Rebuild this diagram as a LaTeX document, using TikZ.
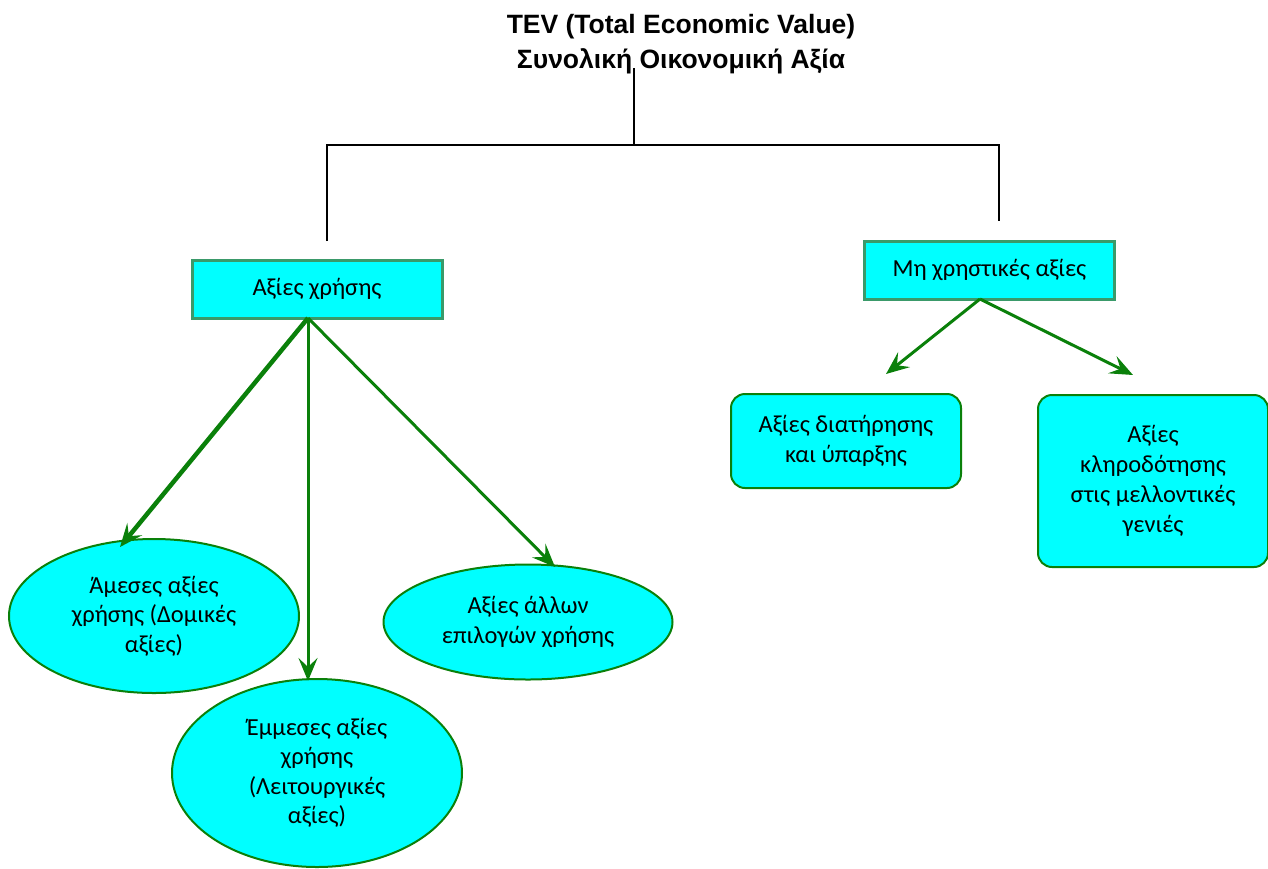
\documentclass[tikz,border=0pt]{standalone}
\usepackage{fontspec}
\setmainfont{Carlito}
\newfontfamily\titlefont{Liberation Sans}
\usetikzlibrary{shapes.geometric,arrows.meta}
\definecolor{cyanfill}{HTML}{00FFFF}
\definecolor{boxline}{HTML}{3A9A6A}
\definecolor{arrgreen}{HTML}{0A800A}
\tikzset{
  sqbox/.style={draw=boxline,line width=3pt,fill=cyanfill,minimum width=250pt,minimum height=58pt,inner sep=0pt,font=\fontsize{24.5}{29}\selectfont},
  rbox/.style={draw=arrgreen,line width=2pt,fill=cyanfill,rounded corners=14pt,inner sep=0pt,align=center,font=\fontsize{24.5}{30}\selectfont},
  ell/.style={draw=arrgreen,line width=2pt,fill=cyanfill,ellipse,inner sep=0pt,align=center,font=\fontsize{24.5}{29.5}\selectfont},
  garrow/.style={draw=arrgreen,line width=3pt,-{Stealth[length=23pt,width=19pt,inset=9pt]}},
  tline/.style={draw=black,line width=1.8pt},
}
\begin{document}
\begin{tikzpicture}[x=1pt,y=-1pt]
\useasboundingbox (0,0) rectangle (1268,868);
\node[align=center,font=\titlefont\bfseries\fontsize{26.5}{35}\selectfont] (title) at (681,44) {TEV (Total Economic Value)\\Συνολική Οικονομική Αξία};
\coordinate (t0) at (634,68);
\coordinate (t1) at (634,145);
\coordinate (tl) at (327,145);
\coordinate (tr) at (999,145);
\coordinate (tle) at (327,241);
\coordinate (tre) at (999,221);
\draw[tline] (t0) -- (t1);
\draw[tline] (tle) -- (tl) -- (tr) -- (tre);

\node[sqbox] (use) at (317,289) {Αξίες χρήσης};
\node[sqbox] (nonuse) at (989.5,270) {Μη χρηστικές αξίες};

\node[rbox,minimum width=230pt,minimum height=94pt] (cons) at (846,441) {Αξίες διατήρησης\\και ύπαρξης};
\node[rbox,minimum width=230pt,minimum height=172pt] (beq) at (1153,481) {Αξίες\\κληροδότησης\\στις μελλοντικές\\γενιές};

\node[ell,minimum width=290pt,minimum height=154pt] (direct) at (154,616) {Άμεσες αξίες\\χρήσης (Δομικές\\αξίες)};
\node[ell,minimum width=290pt,minimum height=188pt] (indirect) at (317,773) {Έμμεσες αξίες\\χρήσης\\(Λειτουργικές\\αξίες)};
\node[ell,minimum width=289pt,minimum height=115pt] (option) at (528,622) {Αξίες άλλων\\επιλογών χρήσης};

\coordinate (us) at (308,318);
\coordinate (ns) at (980,299);
\coordinate (a1) at (120,547);
\coordinate (a2) at (308,681);
\coordinate (a3) at (555,567);
\coordinate (a4) at (886,374);
\coordinate (a5) at (1133,375);
\draw[garrow,line width=4.5pt] (us) -- (a1);
\draw[garrow] (us) -- (a2);
\draw[garrow] (us) -- (a3);
\draw[garrow] (ns) -- (a4);
\draw[garrow] (ns) -- (a5);
\end{tikzpicture}
\end{document}
